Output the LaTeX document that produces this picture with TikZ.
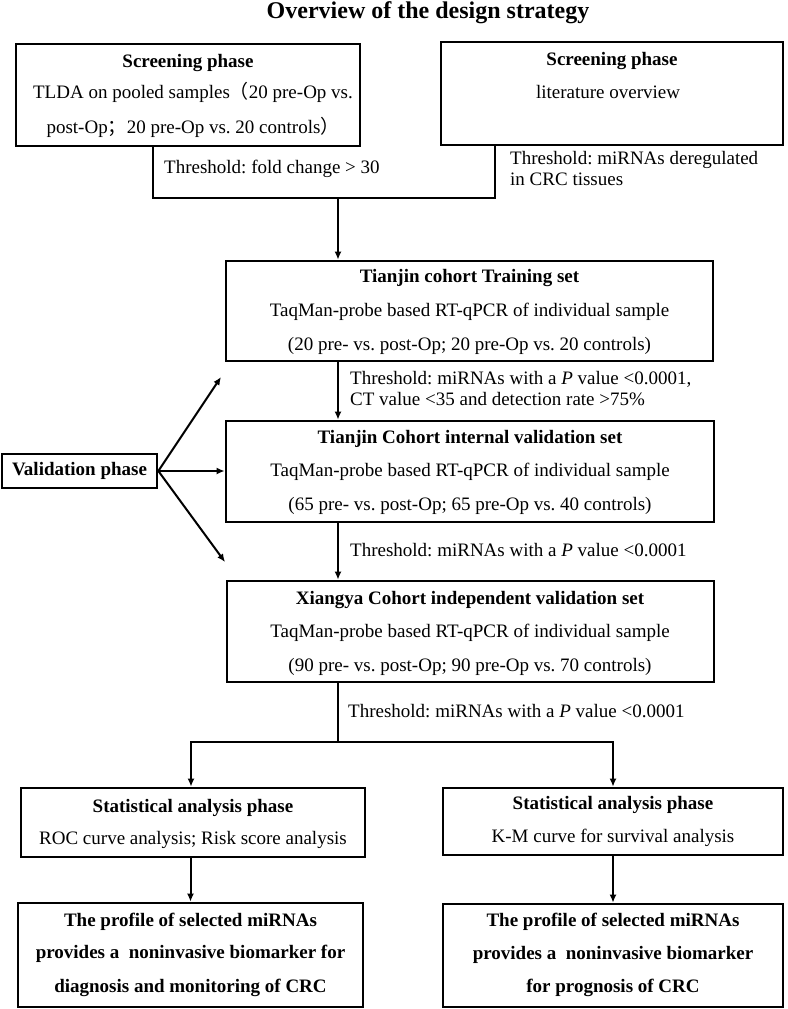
\documentclass[tikz,border=0pt]{standalone}
\usepackage{fontspec}
\setmainfont{Liberation Serif}
\newfontfamily\cjk{Noto Sans CJK SC}
\usetikzlibrary{arrows.meta}
\newcommand\mytxt{\fontsize{19}{21}\selectfont}
\newcommand\mytitle{\fontsize{24}{28}\selectfont\bfseries}
\frenchspacing
\begin{document}
\begin{tikzpicture}[x=1pt,y=-1pt,
  box/.style 2 args={draw, line width=2.7pt, minimum width=#1, minimum height=#2, inner sep=0pt},
  lbl/.style={inner sep=0pt, font=\mytxt, text height=13pt, text depth=4pt},
  blbl/.style={lbl, font=\mytxt\bfseries},
  thr/.style={inner sep=0pt, font=\mytxt, anchor=north west, align=left},
  conn/.style={line width=2pt},
  arr/.style={line width=2pt, -{Latex[length=8pt,width=7pt]}}]
\useasboundingbox[fill=white] (0,0) rectangle (787,1009);
% title
\node[inner sep=0pt, font=\mytitle] (title) at (428,13) {Overview of the design strategy};
% boxes
\node[box={344pt}{102pt}] (A) at (188,95) {};
\node[box={342pt}{103pt}] (B) at (612,93.5) {};
\node[box={487pt}{100pt}] (C) at (469.5,311) {};
\node[box={488pt}{101pt}] (D) at (470,471.5) {};
\node[box={487pt}{101pt}] (E) at (470.5,631.5) {};
\node[box={155pt}{34pt}] (V) at (79.5,471) {};
\node[box={344pt}{69pt}] (F) at (193,822.5) {};
\node[box={340pt}{67pt}] (G) at (613,821.5) {};
\node[box={345pt}{104pt}] (H) at (190.5,955) {};
\node[box={340pt}{103pt}] (I) at (613,955.5) {};
% texts in boxes
\node[blbl] (a1) at (188,63) {Screening phase};
\node[lbl] (a2) at (193,94) {TLDA on pooled samples{\cjk （}20 pre-Op vs.};
\node[lbl] (a3) at (193,129) {post-Op{\cjk ；}20 pre-Op vs. 20 controls{\cjk ）}};
\node[blbl] (b1) at (612,61) {Screening phase};
\node[lbl] (b2) at (608,94) {literature overview};
\node[blbl] (c1) at (469.5,278) {Tianjin cohort Training set};
\node[lbl] (c2) at (469.5,312) {TaqMan-probe based RT-qPCR of individual sample};
\node[lbl] (c3) at (469.5,346) {(20 pre- vs. post-Op; 20 pre-Op vs. 20 controls)};
\node[blbl] (d1) at (470,439) {Tianjin Cohort internal validation set};
\node[lbl] (d2) at (470,472) {TaqMan-probe based RT-qPCR of individual sample};
\node[lbl] (d3) at (470,506) {(65 pre- vs. post-Op; 65 pre-Op vs. 40 controls)};
\node[blbl] (e1) at (470,600) {Xiangya Cohort independent validation set};
\node[lbl] (e2) at (470,633) {TaqMan-probe based RT-qPCR of individual sample};
\node[lbl] (e3) at (470,667) {(90 pre- vs. post-Op; 90 pre-Op vs. 70 controls)};
\node[blbl] (v1) at (79.5,471) {Validation phase};
\node[blbl] (f1) at (193,808) {Statistical analysis phase};
\node[lbl] (f2) at (193,840) {ROC curve analysis; Risk score analysis};
\node[blbl] (g1) at (613,805) {Statistical analysis phase};
\node[lbl] (g2) at (613,838) {K-M curve for survival analysis};
\node[blbl] (h1) at (190.5,922) {The profile of selected miRNAs};
\node[blbl] (h2) at (190.5,954) {provides a\ \ noninvasive biomarker for};
\node[blbl] (h3) at (190.5,988) {diagnosis and monitoring of CRC};
\node[blbl] (i1) at (613,922) {The profile of selected miRNAs};
\node[blbl] (i2) at (613,955) {provides a\ \ noninvasive biomarker};
\node[blbl] (i3) at (613,988) {for prognosis of CRC};
% threshold labels
\node[thr] (t1) at (164,160) {Threshold: fold change > 30};
\node[thr] (t2) at (510,151) {Threshold: miRNAs deregulated\\in CRC tissues};
\node[thr] (t3) at (350,371) {Threshold: miRNAs with a \textit{P} value <0.0001,\\CT value <35 and detection rate >75\%};
\node[thr] (t4) at (350,543) {Threshold: miRNAs with a \textit{P} value <0.0001};
\node[thr] (t5) at (348,704) {Threshold: miRNAs with a \textit{P} value <0.0001};
% connectors
\coordinate (j1) at (338,198);
\coordinate (cx) at (338,0);
\coordinate (j2) at (338,742);
\coordinate (va) at (221,377);
\coordinate (vc) at (225,562);
\draw[conn] ([xshift=-35pt]A.south) |- (j1) -| ([xshift=-117pt]B.south);
\draw[arr] (j1) -- (j1 |- C.north);
\draw[arr] (cx |- C.south) -- (cx |- D.north);
\draw[arr] (cx |- D.south) -- (cx |- E.north);
\draw[conn] (cx |- E.south) -- (j2);
\draw[arr] (j2) -| ([xshift=-2pt]F.north);
\draw[arr] (j2) -| (G.north);
\draw[arr] (F.south -| H.north) -- (H.north);
\draw[arr] (G.south) -- (I.north);
\draw[arr] (V.east) -- (va);
\draw[arr] (V.east) -- (V.east -| D.west);
\draw[arr] (V.east) -- (vc);
\end{tikzpicture}
\end{document}
